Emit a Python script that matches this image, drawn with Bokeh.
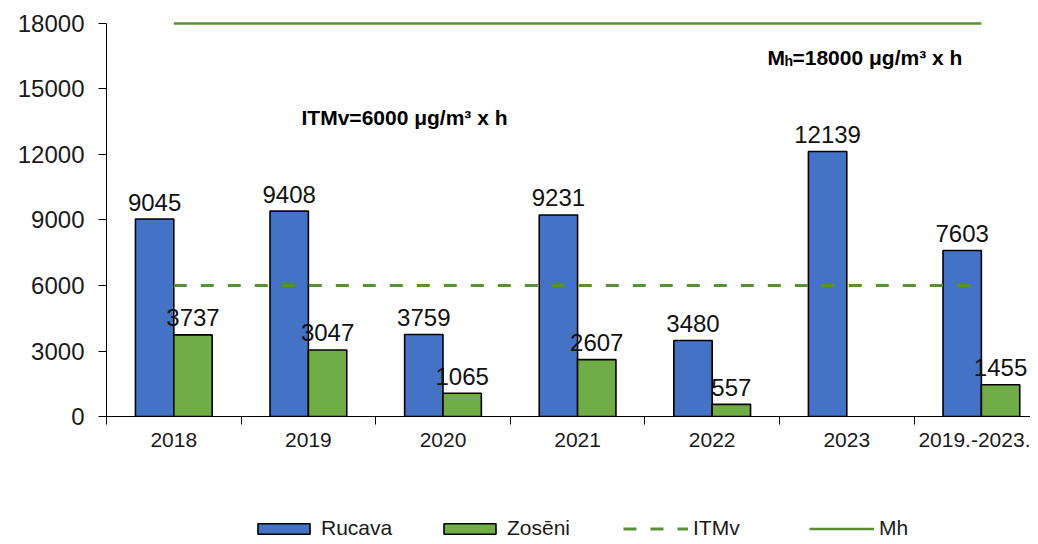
import numpy as np
from bokeh.plotting import figure
from bokeh.layouts import column
from bokeh.models import (ColumnDataSource, FixedTicker, Legend, LegendItem, Label)
from bokeh.core.properties import value
from bokeh.embed import file_html
from bokeh.resources import INLINE

categories = ["2018", "2019", "2020", "2021", "2022", "2023", "2019.-2023."]
rucava = [9045, 9408, 3759, 9231, 3480, 12139, 7603]
zoseni = [3737, 3047, 1065, 2607, 557, None, 1455]
itmv_value = 6000
mh_value = 18000
y_ticks = [0, 3000, 6000, 9000, 12000, 15000, 18000]

BLUE = "#4472C4"
GREEN = "#70AD47"
LINE_GREEN = "#5A8F35"
FONT = "Liberation Sans"

n = len(categories)
centers = np.arange(n) + 0.5
bw = 0.285

p = figure(width=1030, height=500, output_backend="svg", toolbar_location=None,
           x_range=(0, 6.865), y_range=(0, 18091.6),
           min_border_left=106, min_border_right=0, min_border_top=21, min_border_bottom=84)
p.outline_line_color = None
p.xgrid.visible = False
p.ygrid.visible = False
p.background_fill_color = "white"
p.border_fill_color = "white"

src_r = ColumnDataSource(dict(x=centers - bw / 2, top=rucava, lab=[str(v) for v in rucava]))
zx = [c + bw / 2 for c, v in zip(centers, zoseni) if v is not None]
zt = [v for v in zoseni if v is not None]
src_z = ColumnDataSource(dict(x=zx, top=zt, lab=[str(v) for v in zt]))

bar_r = dict(fill_color=BLUE, line_color="black", line_width=1.6)
bar_z = dict(fill_color=GREEN, line_color="black", line_width=1.6)
itmv_style = dict(line_color=LINE_GREEN, line_width=3, line_dash="13 14")
mh_style = dict(line_color=LINE_GREEN, line_width=2.5)

p.vbar(x="x", top="top", width=bw, source=src_r, **bar_r)
p.vbar(x="x", top="top", width=bw, source=src_z, **bar_z)
p.line(x=[centers[0], centers[-1]], y=[itmv_value, itmv_value], **itmv_style)
p.line(x=[centers[0], centers[-1]], y=[mh_value, mh_value], **mh_style)

for s in (src_r, src_z):
    p.text(x="x", y="top", text="lab", source=s, text_align="center",
           text_baseline="alphabetic", y_offset=-17, text_font=value(FONT),
           text_font_size="24px", text_color="#111111")

# Axes
p.yaxis.ticker = FixedTicker(ticks=y_ticks)
p.yaxis.bounds = (0, 18000)
p.yaxis.major_label_text_font = FONT
p.yaxis.major_label_text_font_size = "24px"
p.yaxis.major_label_text_color = "#1a1a1a"
p.yaxis.major_tick_out = 8
p.yaxis.major_tick_in = 0
p.yaxis.minor_tick_line_color = None
p.yaxis.major_label_standoff = 14
p.yaxis.axis_line_color = "black"
p.yaxis.major_tick_line_color = "black"

p.xaxis.ticker = FixedTicker(ticks=list(centers), minor_ticks=list(range(n + 1)))
p.xaxis.major_label_overrides = {float(c): lab for c, lab in zip(centers, categories)}
p.xaxis.major_tick_line_color = None
p.xaxis.major_tick_out = 6
p.xaxis.minor_tick_out = 8
p.xaxis.minor_tick_in = 0
p.xaxis.minor_tick_line_color = "black"
p.xaxis.major_label_text_font = FONT
p.xaxis.major_label_text_font_size = "21px"
p.xaxis.major_label_text_color = "#1a1a1a"
p.xaxis.major_label_standoff = 8
p.xaxis.axis_line_color = "black"

# Annotations
p.add_layout(Label(x=1.449, y=13695, text="ITMv=6000 μg/m³ x h", text_font=FONT,
                   text_font_size="21px", text_font_style="bold", text_baseline="alphabetic",
                   text_color="black"))
p.add_layout(Label(x=4.911, y=16457, text="M", text_font=FONT,
                   text_font_size="21px", text_font_style="bold", text_baseline="alphabetic",
                   text_color="black"))
p.add_layout(Label(x=4.911, y=16457, x_offset=17, y_offset=-4, text="h", text_font=FONT,
                   text_font_size="14px", text_font_style="bold", text_baseline="alphabetic",
                   text_color="black"))
p.add_layout(Label(x=4.911, y=16457, x_offset=25, text="=18000  μg/m³ x h", text_font=FONT,
                   text_font_size="21px", text_font_style="bold", text_baseline="alphabetic",
                   text_color="black"))

# Legend strip below the chart (zero-size proxy renderers outside the visible range)
lg = figure(width=1030, height=40, output_backend="svg", toolbar_location=None,
            x_range=(0, 1), y_range=(0, 1), x_axis_type=None, y_axis_type=None,
            min_border_left=0, min_border_right=0, min_border_top=0, min_border_bottom=0)
lg.outline_line_color = None
lg.grid.visible = False
lr = lg.vbar(x=[5], top=[0], width=0.01, **bar_r)
lz = lg.vbar(x=[5], top=[0], width=0.01, **bar_z)
li = lg.line(x=[5, 6], y=[0.5, 0.5], **itmv_style)
lm = lg.line(x=[5, 6], y=[0.5, 0.5], **mh_style)

legend = Legend(items=[LegendItem(label="Rucava", renderers=[lr]),
                       LegendItem(label="Zosēni", renderers=[lz]),
                       LegendItem(label="ITMv", renderers=[li]),
                       LegendItem(label="Mh", renderers=[lm])],
                orientation="horizontal", location=(145, 0),
                glyph_width=65, glyph_height=13, label_standoff=5, label_width=80,
                spacing=36, padding=0, margin=0, border_line_color=None,
                background_fill_alpha=0, label_text_font=FONT, label_text_font_size="21px",
                label_text_color="#1a1a1a")
lg.add_layout(legend, "center")

layout = column(p, lg, spacing=0)
open("out.html", "w").write(file_html(layout, INLINE))
